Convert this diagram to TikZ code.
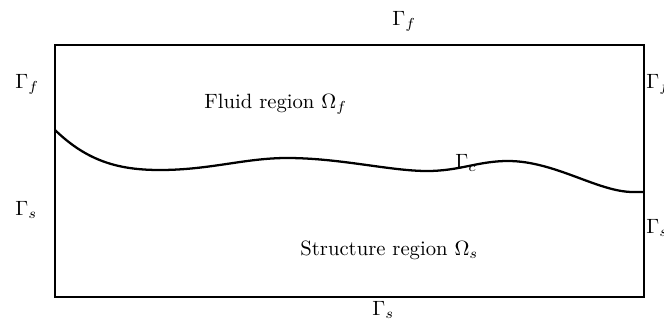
\documentclass[tikz,border=0pt]{standalone}
\usepackage{amsmath}

\tikzset{
  bound/.style={inner sep=0pt, anchor=base west},
  edgeline/.style={line width=1.1pt},
}

\begin{document}
\begin{tikzpicture}[x=0.017cm, y=-0.017cm]
    \useasboundingbox (0,0) rectangle (664,327);
    % outer box
    \draw[edgeline] (55,45) rectangle (644,297);
    % interface
    \draw[edgeline] (55,130) .. controls (88,162) and (120,170) .. (160,170)
          .. controls (210,170) and (245,158) .. (287,158)
          .. controls (340,158) and (390,171) .. (427,171)
          .. controls (460,171) and (478,161) .. (508,161)
          .. controls (555,161) and (598,192) .. (633,192) -- (644,192);
    % boundary labels
    \node[bound] (topF) at (392,25) {$\Gamma_f$};
    \node[bound] (leftF) at (15,88) {$\Gamma_f$};
    \node[bound] (leftS) at (15,215) {$\Gamma_s$};
    \node[bound] (rightF) at (646,88) {$\Gamma_f$};
    \node[bound] (rightS) at (646,233) {$\Gamma_s$};
    \node[bound] (botS) at (372,315) {$\Gamma_s$};
    \node[bound] (gamC) at (455,168) {$\Gamma_c$};
    % regions
    \node[bound] (fluid) at (204,108) {Fluid region $\Omega_f$};
    \node[bound] (solid) at (300,255) {Structure region $\Omega_s$};
\end{tikzpicture}
\end{document}
